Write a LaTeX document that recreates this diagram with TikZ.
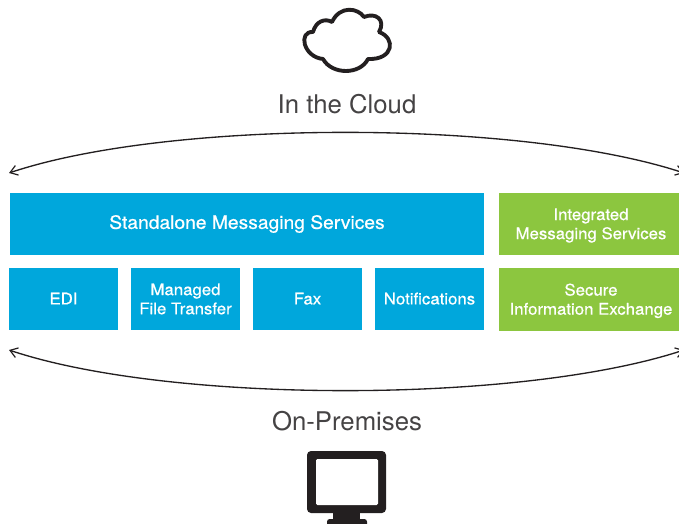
\documentclass[tikz,border=0pt]{standalone}
\usepackage{fontspec}
\setmainfont{TeX Gyre Heros}
\newfontfamily\medfont[FakeBold=0.6,FakeStretch=1.05]{TeX Gyre Heros}
\usetikzlibrary{arrows.meta}
\definecolor{cblue}{HTML}{00A7DC}
\definecolor{cgreen}{HTML}{8CC63F}
\definecolor{ink}{HTML}{231F20}
\definecolor{labelink}{HTML}{454344}
\newcommand{\shiftline}{\hspace*{3pt}}
\tikzset{
  x=0.75pt,y=-0.75pt,
  tile/.style={anchor=north west,inner sep=0pt,outer sep=0pt,text=white,align=center,
    font=\medfont\fontsize{12pt}{14.3pt}\selectfont},
  bluetile/.style={tile,fill=cblue},
  greentile/.style={tile,fill=cgreen},
  biglabel/.style={text=labelink,inner sep=0pt,font=\fontsize{19.3pt}{22pt}\selectfont},
  span/.style={ink,line width=1pt,{Straight Barb[length=5.5pt,width=7.5pt,line width=0.9pt]}-{Straight Barb[length=5.5pt,width=7.5pt,line width=0.9pt]}},
}
\begin{document}
\begin{tikzpicture}
\useasboundingbox (0,0) rectangle (679,524);
\node[bluetile,minimum width=474*0.75pt,minimum height=62*0.75pt] (standalone) at (10,193) {\fontsize{13.75pt}{15pt}\selectfont\raisebox{-0.7pt}{Standalone Messaging Services}};
\node[greentile,minimum width=180*0.75pt,minimum height=62*0.75pt] (integrated) at (499,193) {\rule{0pt}{11pt}\shiftline Integrated\\\shiftline Messaging Services};
\node[bluetile,minimum width=109*0.75pt,minimum height=62*0.75pt] (edi) at (9,268) {\raisebox{0.7pt}{EDI}};
\node[bluetile,minimum width=109*0.75pt,minimum height=62*0.75pt] (mft) at (131,268) {Managed\\File Transfer};
\node[bluetile,minimum width=109*0.75pt,minimum height=62*0.75pt] (fax) at (253,268) {\raisebox{0.7pt}{Fax}};
\node[bluetile,minimum width=109*0.75pt,minimum height=62*0.75pt] (notif) at (375,268) {\raisebox{0.7pt}{Notifications}};
\node[greentile,minimum width=180*0.75pt,minimum height=63*0.75pt] (secure) at (499,268) {\rule{0pt}{11pt}\shiftline Secure\\\shiftline Information Exchange};
\node[biglabel] (cloudlabel) at (347,104) {In the Cloud};
\node[biglabel] (premlabel) at (347,421) {On-Premises};
\coordinate (tl) at (9,173);
\coordinate (tr) at (684,173);
\coordinate (bl) at (9,350);
\coordinate (br) at (684,350);
\draw[span] (tl) .. controls (170,119) and (520,119) .. (tr);
\draw[span] (bl) .. controls (170,404) and (520,404) .. (br);
% cloud
\draw[ink,line width=2.9pt,line join=round,fill=white]
  (323,59) .. controls (303,57) and (298,31) .. (313,32)
  .. controls (316,21) and (325,18) .. (332,22)
  .. controls (340,5) and (358,8) .. (364,17)
  .. controls (376,12) and (386,20) .. (379,32)
  .. controls (396,38) and (394,60) .. (368,59)
  .. controls (360,75) and (332,75) .. (323,59) -- cycle;
% monitor
\fill[ink,rounded corners=3pt] (307,451) rectangle (386,513);
\fill[white,rounded corners=1pt] (316,459) rectangle (378,505);
\fill[ink] (333,510) rectangle (360,520);
\fill[ink,rounded corners=2pt] (327,519) rectangle (367,530);
\end{tikzpicture}
\end{document}
